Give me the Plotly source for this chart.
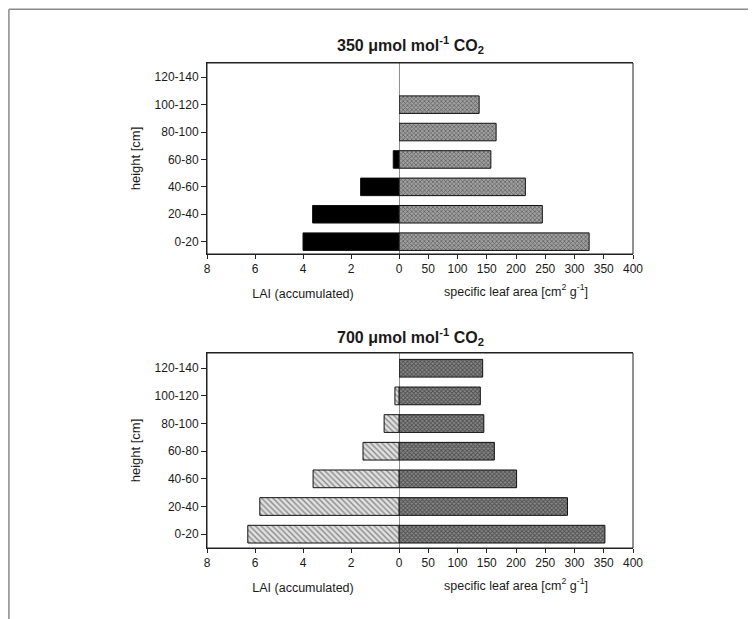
import plotly.graph_objects as go

heights = ["0-20", "20-40", "40-60", "60-80", "80-100", "100-120", "120-140"]

lai_350 = [4.0, 3.6, 1.6, 0.24, None, None, None]
sla_350 = [325, 245, 216, 157, 166, 137, None]

lai_700 = [6.3, 5.8, 3.58, 1.5, 0.62, 0.17, None]
sla_700 = [352, 288, 201, 163, 145, 139, 143]

lai_ticks = [8, 6, 4, 2]
sla_ticks = [0, 50, 100, 150, 200, 250, 300, 350, 400]

FONT = "Liberation Sans, Arial, Helvetica, sans-serif"
TXT = "#1a1a1a"
split = 192 / 426

fig = go.Figure()

line = dict(color="#111", width=1)
bw = 0.64

# top panel
fig.add_trace(go.Bar(y=heights, x=lai_350, orientation="h", xaxis="x", yaxis="y",
                     width=bw, marker=dict(color="#000", line=line), showlegend=False))
fig.add_trace(go.Bar(y=heights, x=sla_350, orientation="h", xaxis="x2", yaxis="y",
                     width=bw, marker=dict(color="#9a9a9a", line=line,
                                           pattern=dict(shape="x", size=3, solidity=0.45,
                                                        fgcolor="#222", bgcolor="#a0a0a0")),
                     showlegend=False))
# bottom panel
fig.add_trace(go.Bar(y=heights, x=lai_700, orientation="h", xaxis="x3", yaxis="y2",
                     width=bw, marker=dict(color="#d8d8d8", line=line,
                                           pattern=dict(shape="\\", size=4, solidity=0.35,
                                                        fgcolor="#333", bgcolor="#e0e0e0")),
                     showlegend=False))
fig.add_trace(go.Bar(y=heights, x=sla_700, orientation="h", xaxis="x4", yaxis="y2",
                     width=bw, marker=dict(color="#777", line=line,
                                           pattern=dict(shape="x", size=3, solidity=0.5,
                                                        fgcolor="#111", bgcolor="#888888")),
                     showlegend=False))

tickfont = dict(family=FONT, size=12, color=TXT)
titlefont = dict(family=FONT, size=12.5, color=TXT)

def lai_axis(anchor):
    return dict(domain=[0, split], range=[8, 0], tickvals=lai_ticks, anchor=anchor,
                showline=True, linecolor="#222", linewidth=1, mirror=True,
                ticks="outside", ticklen=4, tickcolor="#222", showgrid=False,
                zeroline=False, tickfont=tickfont,
                title=dict(text="LAI (accumulated)", font=titlefont, standoff=13))

def sla_axis(anchor):
    return dict(domain=[split, 1], range=[0, 400], tickvals=sla_ticks, anchor=anchor,
                showline=True, linecolor="#222", linewidth=1, mirror=True,
                ticks="outside", ticklen=4, tickcolor="#222", showgrid=False,
                zeroline=False, tickfont=tickfont,
                title=dict(text="specific leaf area [cm<sup>2</sup> g<sup>-1</sup>]",
                           font=titlefont, standoff=11))

def h_axis(domain, rng, anchor):
    return dict(domain=domain, type="category", categoryorder="array",
                categoryarray=heights, range=rng, anchor=anchor,
                showline=True, linecolor="#222", linewidth=1,
                ticks="outside", ticklen=5, tickcolor="#222", showgrid=False,
                tickfont=tickfont,
                title=dict(text="height [cm]", font=dict(family=FONT, size=13, color=TXT),
                           standoff=10))

# page has an 8px body margin, so margins are reduced by 8
fig.update_layout(
    width=756, height=619,
    margin=dict(l=199, r=131, t=55, b=79),
    paper_bgcolor="white", plot_bgcolor="white",
    barmode="overlay",
    xaxis=lai_axis("y"),
    xaxis2=sla_axis("y"),
    xaxis3=lai_axis("y2"),
    xaxis4=sla_axis("y2"),
    yaxis=h_axis([0.6062, 1], [-0.45, 6.52], "x"),
    yaxis2=h_axis([0, 0.402], [-0.5, 6.55], "x3"),
    font=dict(family=FONT, color=TXT),
)

shapes = []
frame = dict(color="#222", width=1)
for xr, yr in (("x2", "y domain"), ("x4", "y2 domain")):
    # zero line
    shapes.append(dict(type="line", xref=xr, yref=yr, x0=0, x1=0, y0=0, y1=1, line=frame))
    # panel frame
    shapes.append(dict(type="rect", xref="paper", yref=yr, x0=0, x1=1, y0=0, y1=1,
                       line=frame, fillcolor="rgba(0,0,0,0)"))
# outer page frame
shapes.append(dict(type="line", xref="paper", yref="paper", x0=-0.465, x1=1.35,
                   y0=1.111, y1=1.111, line=dict(color="#8a8a8a", width=1.5)))
shapes.append(dict(type="line", xref="paper", yref="paper", x0=-0.465, x1=-0.465,
                   y0=1.111, y1=-0.16, line=dict(color="#8a8a8a", width=1.5)))
fig.update_layout(shapes=shapes)

fig.add_annotation(text="<b>350 μmol mol<sup>-1</sup> CO<sub>2</sub></b>", xref="paper", yref="paper",
                   x=0.477, y=1.037, yanchor="middle", showarrow=False,
                   font=dict(family=FONT, size=16, color=TXT))
fig.add_annotation(text="<b>700 μmol mol<sup>-1</sup> CO<sub>2</sub></b>", xref="paper", yref="paper",
                   x=0.477, y=0.435, yanchor="middle", showarrow=False,
                   font=dict(family=FONT, size=16, color=TXT))

fig.write_html("out.html")
